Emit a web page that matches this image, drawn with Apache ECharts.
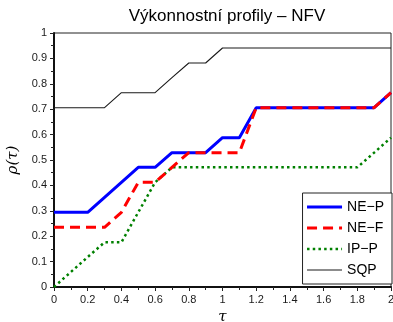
<!DOCTYPE html>
<html><head><meta charset="utf-8">
<script src="https://cdn.jsdelivr.net/npm/echarts@6/dist/echarts.min.js"></script>
<style>html,body{margin:0;padding:0;background:#fff}#c{width:393px;height:322px}</style>
</head><body><div id="c"></div>
<script>
var tau = [0,0.1,0.2,0.3,0.4,0.5,0.6,0.7,0.8,0.9,1.0,1.1,1.2,1.3,1.4,1.5,1.6,1.7,1.8,1.9,2.0];
var neP = [0.294,0.294,0.294,0.353,0.412,0.471,0.471,0.529,0.529,0.529,0.588,0.588,0.706,0.706,0.706,0.706,0.706,0.706,0.706,0.706,0.765];
var neF = [0.235,0.235,0.235,0.235,0.294,0.412,0.412,0.471,0.529,0.529,0.529,0.529,0.706,0.706,0.706,0.706,0.706,0.706,0.706,0.706,0.765];
var ipP = [0,0.059,0.118,0.176,0.176,0.294,0.412,0.471,0.471,0.471,0.471,0.471,0.471,0.471,0.471,0.471,0.471,0.471,0.471,0.529,0.588];
var sqp = [0.706,0.706,0.706,0.706,0.765,0.765,0.765,0.824,0.882,0.882,0.941,0.941,0.941,0.941,0.941,0.941,0.941,0.941,0.941,0.941,0.941];
var seriesNames = ['NE\u2212P','NE\u2212F','IP\u2212P','SQP'];
var titleText = 'V\u00fdkonnostn\u00ed profily \u2013 NFV';

function pairs(v){ return tau.map(function(t,i){ return [t, v[i]]; }); }

var styles = [
  {color:'#0000ff',width:3,type:'solid'},
  {color:'#ff0000',width:3,type:[10,6]},
  {color:'#008000',width:2.5,type:[2.5,3.2]},
  {color:'#1a1a1a',width:1.1,type:'solid'}
];

var chart = echarts.init(document.getElementById('c'), null, {renderer:'canvas'});
var font = 'Liberation Sans, Arial, sans-serif';
chart.setOption({
  animation:false,
  title:{text:titleText,left:222,textAlign:'center',top:3,textStyle:{fontFamily:font,fontSize:17,fontWeight:'normal',color:'#000'}},
  grid:{left:54,right:2,top:33,bottom:35,outerBoundsMode:'none',containLabel:false,show:true,borderColor:'#222',borderWidth:1,backgroundColor:'transparent'},
  xAxis:{type:'value',min:0,max:2,interval:0.2,
    name:'\u03c4',nameLocation:'middle',nameGap:23,
    nameTextStyle:{fontFamily:'DejaVu Serif',fontStyle:'italic',fontSize:15,color:'#000'},
    axisLine:{show:true,lineStyle:{color:'#111',width:2}},
    axisTick:{show:true,inside:false,length:4,lineStyle:{color:'#222'}},
    minorTick:{show:true,splitNumber:2,length:3,lineStyle:{color:'#222'}},
    splitLine:{show:false},
    axisLabel:{margin:7,fontFamily:font,fontSize:11,color:'#1a1a1a'}},
  yAxis:{type:'value',min:0,max:1,interval:0.1,
    name:'\u03c1(\u03c4)',nameLocation:'middle',nameGap:28,nameRotate:90,
    nameTextStyle:{fontFamily:'DejaVu Serif',fontStyle:'italic',fontSize:15,color:'#000'},
    axisLine:{show:true,lineStyle:{color:'#111',width:2}},
    axisTick:{show:true,inside:false,length:4,lineStyle:{color:'#222'}},
    minorTick:{show:true,splitNumber:2,length:3,lineStyle:{color:'#222'}},
    splitLine:{show:false},
    axisLabel:{margin:7,fontFamily:font,fontSize:11,color:'#1a1a1a'}},
  legend:{orient:'vertical',right:1,bottom:38,backgroundColor:'#fff',borderColor:'#222',borderWidth:1,borderRadius:0,
    padding:[7,8,7,3],itemWidth:35,itemHeight:14,itemGap:7,
    itemStyle:{opacity:0},
    textStyle:{fontFamily:font,fontSize:14,color:'#000'},
    data:seriesNames.map(function(n,i){ return {name:n,lineStyle:{color:styles[i].color,width:styles[i].width,type:styles[i].type}}; })},
  series:seriesNames.map(function(n,i){
    return {name:n,type:'line',data:pairs([neP,neF,ipP,sqp][i]),symbol:'none',z:[4,5,3,2][i],
      lineStyle:{color:styles[i].color,width:styles[i].width,type:styles[i].type},itemStyle:{color:styles[i].color}};
  })
});
</script></body></html>
